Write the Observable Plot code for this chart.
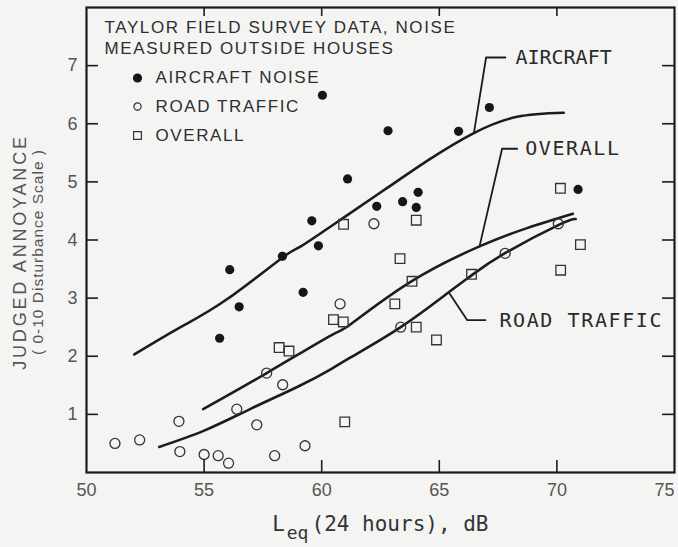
<!DOCTYPE html>
<html>
<head>
<meta charset="utf-8">
<script src="https://cdn.jsdelivr.net/npm/d3@7"></script>
<script src="https://cdn.jsdelivr.net/npm/@observablehq/plot@0.6"></script>
<style>
  html, body { margin: 0; padding: 0; background: #f4f4f2; }
  #chart { width: 678px; height: 547px; }
  svg { display: block; }
</style>
</head>
<body>
<div id="chart"></div>
<script>
// ---- Data ----
const xTicks = [50, 55, 60, 65, 70];
const xLastTick = [75];
const yTicks = [1, 2, 3, 4, 5, 6, 7];
const innerXTicks = [55, 60, 65, 70];

const titleLines = ["TAYLOR FIELD SURVEY DATA, NOISE", "MEASURED OUTSIDE HOUSES"];
const legendLabels = ["AIRCRAFT NOISE", "ROAD TRAFFIC", "OVERALL"];
const curveLabels = ["AIRCRAFT", "OVERALL", "ROAD TRAFFIC"];
const yTitle = ["JUDGED ANNOYANCE", "( 0-10 Disturbance Scale )"];
const xTitleParts = ["L", "eq", "(24 hours), dB"];

// Aircraft noise survey points (filled circles): [Leq dB, annoyance]
const aircraftPoints = [
  [55.66, 2.31], [56.09, 3.49], [56.49, 2.85], [58.33, 3.72], [59.21, 3.10],
  [59.58, 4.33], [59.86, 3.90], [60.03, 6.49], [61.10, 5.05], [62.34, 4.58],
  [62.82, 5.88], [63.44, 4.66], [64.10, 4.82], [64.02, 4.56], [65.82, 5.87],
  [67.13, 6.28], [70.90, 4.87]
];
// Road traffic points (open circles)
const roadPoints = [
  [51.21, 0.50], [52.26, 0.56], [53.93, 0.88], [53.97, 0.36], [55.00, 0.31],
  [55.60, 0.29], [56.04, 0.16], [56.39, 1.09], [57.24, 0.82], [57.66, 1.71],
  [58.00, 0.29], [58.34, 1.51], [59.29, 0.46], [60.78, 2.90], [62.22, 4.28],
  [63.36, 2.50], [67.80, 3.77], [70.06, 4.28]
];
// Overall points (open squares)
const overallPoints = [
  [58.19, 2.15], [58.61, 2.09], [60.50, 2.63], [60.92, 2.59], [60.98, 0.87],
  [60.93, 4.27], [63.11, 2.90], [63.33, 3.68], [63.84, 3.29], [64.02, 2.50],
  [64.02, 4.34], [64.88, 2.28], [66.37, 3.41], [70.15, 4.89], [70.16, 3.48],
  [71.00, 3.92]
];

// Fitted curves
const aircraftCurve = [
  [52.03, 2.03], [54.0, 2.50], [55.97, 2.98], [58.34, 3.70], [59.15, 3.90],
  [60.95, 4.39], [62.8, 4.90], [64.63, 5.40], [66.47, 5.84], [68.31, 6.12], [70.29, 6.19]
];
const overallCurve = [
  [54.96, 1.09], [57.66, 1.71], [60.4, 2.36], [61.23, 2.55], [63.78, 3.28],
  [66.71, 3.89], [68.7, 4.20], [70.68, 4.45]
];
const roadCurve = [
  [53.09, 0.44], [55.0, 0.72], [57.0, 1.10], [59.0, 1.48], [60.4, 1.78],
  [61.23, 1.98], [63.36, 2.50], [65.4, 3.10], [66.4, 3.40], [67.74, 3.76],
  [70.08, 4.26], [70.8, 4.36]
];

// Leader lines for curve labels
const aircraftLeader = [[66.47, 5.84], [66.99, 7.14], [67.81, 7.14]];
const overallLeader = [[66.71, 3.89], [67.67, 5.57], [68.31, 5.57]];
const roadLeader = [[65.4, 3.10], [66.19, 2.62], [66.96, 2.62]];

const ink = "#1c1c1c";
const sans = "'Liberation Sans', Arial, Helvetica, sans-serif";
const mono = "'DejaVu Sans Mono', 'Liberation Mono', monospace";
const leaderEnd = (l) => [l[l.length - 1]];
const legendText = { frameAnchor: "top-left", textAnchor: "start", lineAnchor: "middle", fontSize: 17, fill: "#2e2e2e", fontFamily: sans };

const chart = Plot.plot({
  width: 678,
  height: 547,
  marginLeft: 86,
  marginRight: 4,
  marginTop: 7,
  marginBottom: 75,
  x: { domain: [50, 75], label: null },
  y: { domain: [0, 8], label: null },
  style: { background: "transparent", fontFamily: sans },
  marks: [
    // tick labels
    Plot.axisX(xTicks, { tickSize: 0, tickPadding: 11, fontSize: 18, fill: "#555", fontFamily: sans, tickFormat: d3.format("d") }),
    Plot.axisX(xLastTick, { tickSize: 0, tickPadding: 11, fontSize: 18, fill: "#555", fontFamily: sans, tickFormat: d3.format("d"), dx: -10 }),
    Plot.axisY(yTicks, { tickSize: 0, tickPadding: 9, fontSize: 18, fill: "#555", fontFamily: sans, tickFormat: d3.format("d") }),
    // inward ticks on all four sides
    Plot.tickX(innerXTicks, { x: d => d, insetTop: 453, stroke: ink, strokeWidth: 1.6 }),
    Plot.tickX(innerXTicks, { x: d => d, insetBottom: 456, stroke: ink, strokeWidth: 1.6 }),
    Plot.tickY(yTicks, { y: d => d, insetRight: 576, stroke: ink, strokeWidth: 1.6 }),
    Plot.tickY(yTicks, { y: d => d, insetLeft: 576, stroke: ink, strokeWidth: 1.6 }),
    Plot.frame({ stroke: ink, strokeWidth: 2.2 }),

    // fitted curves
    Plot.line(aircraftCurve, { x: d => d[0], y: d => d[1], curve: "natural", stroke: ink, strokeWidth: 2.6 }),
    Plot.line(overallCurve, { x: d => d[0], y: d => d[1], curve: "natural", stroke: ink, strokeWidth: 2.6 }),
    Plot.line(roadCurve, { x: d => d[0], y: d => d[1], curve: "natural", stroke: ink, strokeWidth: 2.6 }),

    // leader lines + labels
    Plot.line(aircraftLeader, { x: d => d[0], y: d => d[1], stroke: ink, strokeWidth: 1.8 }),
    Plot.line(overallLeader, { x: d => d[0], y: d => d[1], stroke: ink, strokeWidth: 1.8 }),
    Plot.line(roadLeader, { x: d => d[0], y: d => d[1], stroke: ink, strokeWidth: 1.8 }),
    Plot.text(leaderEnd(aircraftLeader), { x: d => d[0], y: d => d[1], text: () => curveLabels[0], dx: 10, textAnchor: "start", fontFamily: mono, fontSize: 20, fill: "#2a2a2a" }),
    Plot.text(leaderEnd(overallLeader), { x: d => d[0], y: d => d[1], text: () => curveLabels[1], dx: 8, textAnchor: "start", fontFamily: mono, fontSize: 20, fill: "#2a2a2a" }),
    Plot.text(leaderEnd(roadLeader), { x: d => d[0], y: d => d[1], text: () => curveLabels[2], dx: 14, textAnchor: "start", fontFamily: mono, fontSize: 20, fill: "#2a2a2a" }),

    // data points
    Plot.dot(roadPoints, { x: d => d[0], y: d => d[1], r: 5, stroke: "#333", strokeWidth: 1.3, fill: "none" }),
    Plot.dot(overallPoints, { x: d => d[0], y: d => d[1], symbol: "square", r: 5.4, stroke: "#333", strokeWidth: 1.3, fill: "none" }),
    Plot.dot(aircraftPoints, { x: d => d[0], y: d => d[1], r: 4.6, fill: "#161616", stroke: "none" }),

    // legend (inside frame, top-left)
    Plot.text([titleLines[0]], { ...legendText, dx: 18, dy: 20 }),
    Plot.text([titleLines[1]], { ...legendText, dx: 18, dy: 41 }),
    Plot.dot([legendLabels[0]], { frameAnchor: "top-left", dx: 51, dy: 70.5, r: 4.6, fill: "#161616" }),
    Plot.dot([legendLabels[1]], { frameAnchor: "top-left", dx: 51, dy: 99, r: 3.6, stroke: "#333", strokeWidth: 1.2, fill: "none" }),
    Plot.dot([legendLabels[2]], { frameAnchor: "top-left", dx: 51, dy: 128, symbol: "square", r: 4.4, stroke: "#333", strokeWidth: 1.2, fill: "none" }),
    Plot.text([legendLabels[0]], { ...legendText, dx: 69, dy: 70.5 }),
    Plot.text([legendLabels[1]], { ...legendText, dx: 69, dy: 99.5 }),
    Plot.text([legendLabels[2]], { ...legendText, dx: 69, dy: 128.5 }),

    // y-axis title
    Plot.text([yTitle[0]], { frameAnchor: "left", textAnchor: "middle", lineAnchor: "middle", dx: -66, dy: 12, rotate: -90, fontSize: 18, fill: "#555", fontFamily: sans }),
    Plot.text([yTitle[1]], { frameAnchor: "left", textAnchor: "middle", lineAnchor: "middle", dx: -48, dy: 12, rotate: -90, fontSize: 15.5, fill: "#555", fontFamily: sans }),

    // x-axis title
    Plot.text([xTitleParts[0]], { frameAnchor: "bottom", textAnchor: "middle", lineAnchor: "middle", dx: -102, dy: 52, fontSize: 21, fill: "#333", fontFamily: mono }),
    Plot.text([xTitleParts[1]], { frameAnchor: "bottom", textAnchor: "middle", lineAnchor: "middle", dx: -83, dy: 61, fontSize: 18, fill: "#333", fontFamily: mono }),
    Plot.text([xTitleParts[2]], { frameAnchor: "bottom", textAnchor: "start", lineAnchor: "middle", dx: -69, dy: 52, fontSize: 21, fill: "#333", fontFamily: mono })
  ]
});

// letter spacing like the typeset original
d3.select(chart).selectAll("text").each(function () {
  const t = this.textContent;
  if (titleLines.includes(t) || legendLabels.includes(t)) this.style.letterSpacing = "1.6px";
  if (t === yTitle[0]) this.style.letterSpacing = "2.8px";
  if (t === yTitle[1]) this.style.letterSpacing = "1px";
});

document.getElementById("chart").appendChild(chart);
</script>
</body>
</html>
